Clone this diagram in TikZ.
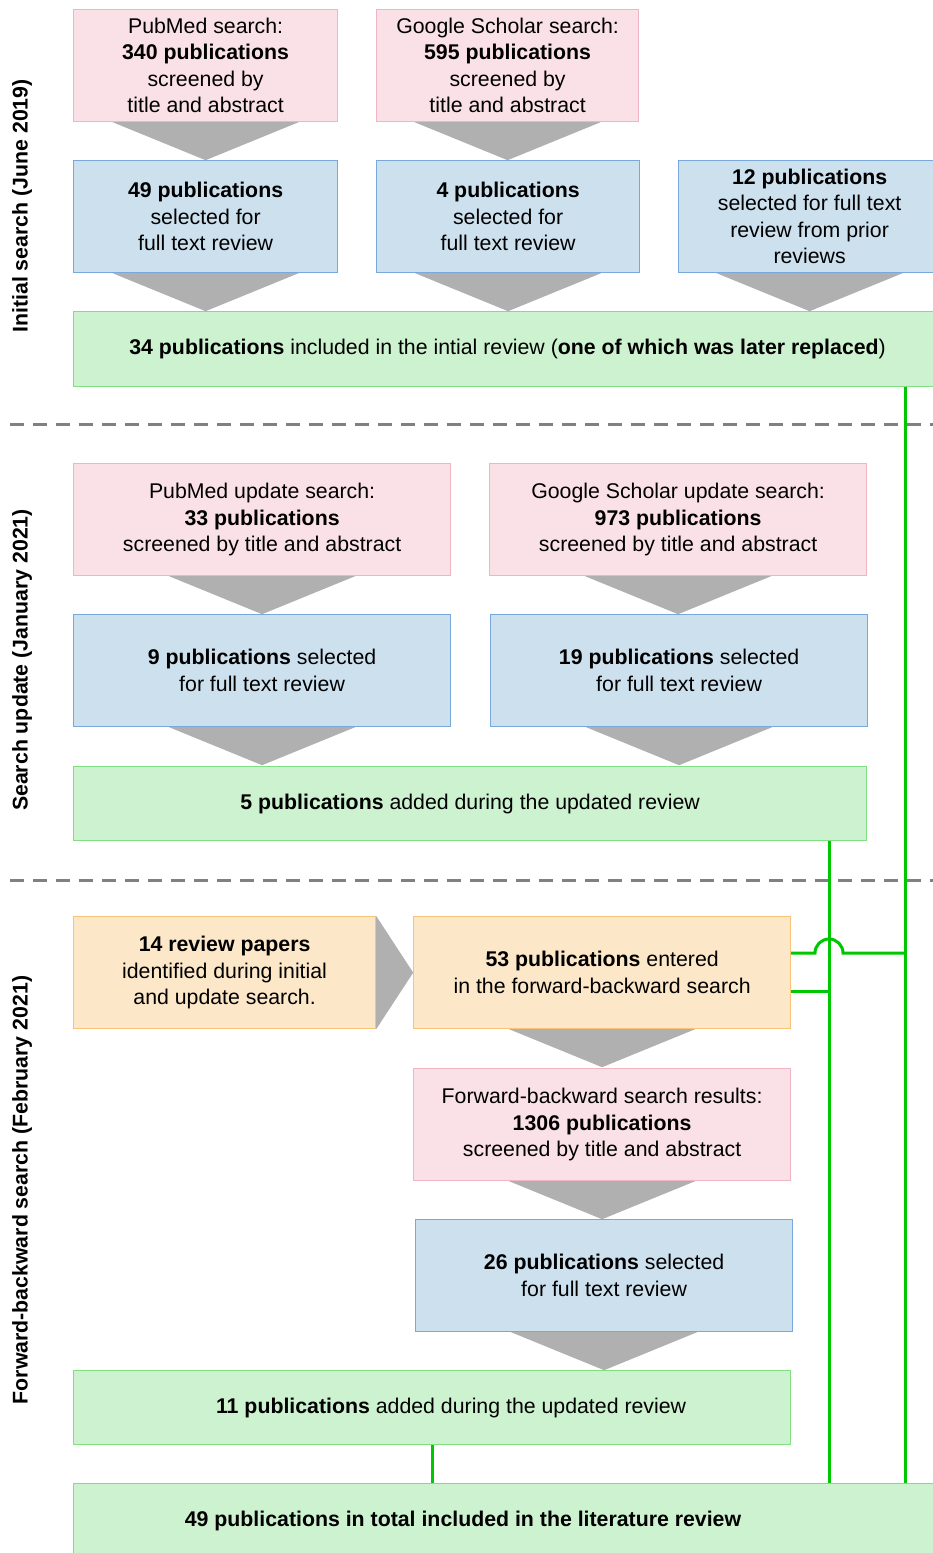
\documentclass[tikz,border=0pt]{standalone}
\usepackage{fontspec}
\setmainfont{Liberation Sans}
\usetikzlibrary{calc}
\definecolor{pinkfill}{RGB}{250,225,232}
\definecolor{pinkline}{RGB}{240,180,195}
\definecolor{bluefill}{RGB}{204,224,238}
\definecolor{blueline}{RGB}{120,168,220}
\definecolor{greenfill}{RGB}{205,242,207}
\definecolor{greenline}{RGB}{130,222,130}
\definecolor{orangefill}{RGB}{252,231,201}
\definecolor{orangeline}{RGB}{246,196,120}
\definecolor{trigray}{RGB}{176,176,176}
\definecolor{conngreen}{RGB}{0,200,0}
\definecolor{dashgray}{RGB}{128,128,128}
\tikzset{
  base/.style={rectangle, line width=1.2pt, anchor=north west, align=center, inner sep=0pt,
    font=\fontsize{21.3}{26.5}\selectfont},
  pinkbox/.style={base, draw=pinkline, fill=pinkfill},
  bluebox/.style={base, draw=blueline, fill=bluefill},
  greenbox/.style={base, draw=greenline, fill=greenfill},
  orangebox/.style={base, draw=orangeline, fill=orangefill},
  tri/.style={fill=trigray},
  gline/.style={draw=conngreen, line width=3pt},
  sepline/.style={draw=dashgray, line width=3pt, dash pattern=on 14pt off 9pt},
  side/.style={rotate=90, font=\fontsize{21.3}{24}\selectfont\bfseries},
}
\begin{document}
\begin{tikzpicture}[x=1pt,y=-1pt]
\useasboundingbox (0,0) rectangle (933,1553);
% ---- row 1
\node[pinkbox, minimum width=264, minimum height=112] (pm1) at (73,9)
  {PubMed search:\\\textbf{340 publications}\\screened by\\title and abstract};
\node[pinkbox, minimum width=262, minimum height=112] (gs1) at (376,9)
  {Google Scholar search:\\\textbf{595 publications}\\screened by\\title and abstract};
\node[bluebox, minimum width=264, minimum height=112] (b1) at (73,160)
  {\textbf{49 publications}\\selected for\\full text review};
\node[bluebox, minimum width=263, minimum height=112] (b2) at (376,160)
  {\textbf{4 publications}\\selected for\\full text review};
\node[bluebox, minimum width=262, minimum height=112] (b3) at (678,160)
  {\textbf{12 publications}\\selected for full text\\review from prior\\reviews};
\node[greenbox, minimum width=868, minimum height=75] (g1) at (73,311)
  {\textbf{34 publications} included in the intial review (\textbf{one of which was later replaced})};
\foreach \a/\b in {pm1/b1, gs1/b2, b1/g1, b2/g1, b3/g1}{
  \fill[tri] ($(\a.south)+(-93,0)$) -- ($(\a.south)+(93,0)$) -- ($(\a.south)+(0,38)$) -- cycle;
}
\node[side] (s1) at (22,206) {Initial search (June 2019)};
\coordinate (sepA) at (10,424);
\coordinate (sepAe) at (933,424);
\draw[sepline] (sepA) -- (sepAe);
% ---- row 2
\node[pinkbox, minimum width=377, minimum height=112] (p2a) at (73,463)
  {PubMed update search:\\\textbf{33 publications}\\screened by title and abstract};
\node[pinkbox, minimum width=377, minimum height=112] (p2b) at (489,463)
  {Google Scholar update search:\\\textbf{973 publications}\\screened by title and abstract};
\node[bluebox, minimum width=377, minimum height=112] (b2a) at (73,614)
  {\textbf{9 publications} selected\\for full text review};
\node[bluebox, minimum width=377, minimum height=112] (b2b) at (490,614)
  {\textbf{19 publications} selected\\for full text review};
\node[greenbox, minimum width=793, minimum height=74] (g2) at (73,766)
  {\textbf{5 publications} added during the updated review};
\foreach \a in {p2a, p2b, b2a, b2b}{
  \fill[tri] ($(\a.south)+(-93,0)$) -- ($(\a.south)+(93,0)$) -- ($(\a.south)+(0,38)$) -- cycle;
}
\node[side] (s2) at (22,660) {Search update (January 2021)};
\coordinate (sepB) at (10,880);
\coordinate (sepBe) at (933,880);
\draw[sepline] (sepB) -- (sepBe);
% ---- row 3
\node[orangebox, minimum width=302, minimum height=112] (o1) at (73,916)
  {\textbf{14 review papers}\\identified during initial\\and update search.};
\node[orangebox, minimum width=377, minimum height=112] (o2) at (413,916)
  {\textbf{53 publications} entered\\in the forward-backward search};
\fill[tri] (o1.north east) -- (o1.south east) -- ($(o1.east)+(37,0)$) -- cycle;
\node[pinkbox, minimum width=377, minimum height=112] (p3) at (413,1068)
  {Forward-backward search results:\\\textbf{1306 publications}\\screened by title and abstract};
\node[bluebox, minimum width=377, minimum height=112] (b4) at (415,1219)
  {\textbf{26 publications} selected\\for full text review};
\node[greenbox, minimum width=717, minimum height=74] (g3) at (73,1370)
  {\hspace*{38pt}\textbf{11 publications} added during the updated review};
\foreach \a in {o2, p3, b4}{
  \fill[tri] ($(\a.south)+(-93,0)$) -- ($(\a.south)+(93,0)$) -- ($(\a.south)+(0,38)$) -- cycle;
}
\node[side] (s3) at (22,1190) {Forward-backward search (February 2021)};
% ---- total
\node[greenbox, minimum width=870, minimum height=80] (tot) at (73,1483) {};
\node[font=\fontsize{21.3}{24}\selectfont\bfseries, inner sep=0pt] (totlabel) at (463,1521)
  {49 publications in total included in the literature review};
% ---- connectors
\coordinate (x1) at (905,0);
\coordinate (x2) at (829,0);
\coordinate (x3) at (432,0);
\draw[gline] (g1.south -| x1) -- (tot.north -| x1);
\draw[gline] (g2.south -| x2) -- (tot.north -| x2);
\draw[gline] (g3.south -| x3) -- (tot.north -| x3);
\coordinate (o2a) at ($(o2.north east)+(0,37)$);
\coordinate (o2b) at ($(o2.north east)+(0,75)$);
\draw[gline] (o2a) -- ($(o2a -| x2)+(-14,0)$) arc[start angle=-180, end angle=0, radius=14] -- (o2a -| x1);
\draw[gline] (o2b) -- (o2b -| x2);
\end{tikzpicture}
\end{document}
